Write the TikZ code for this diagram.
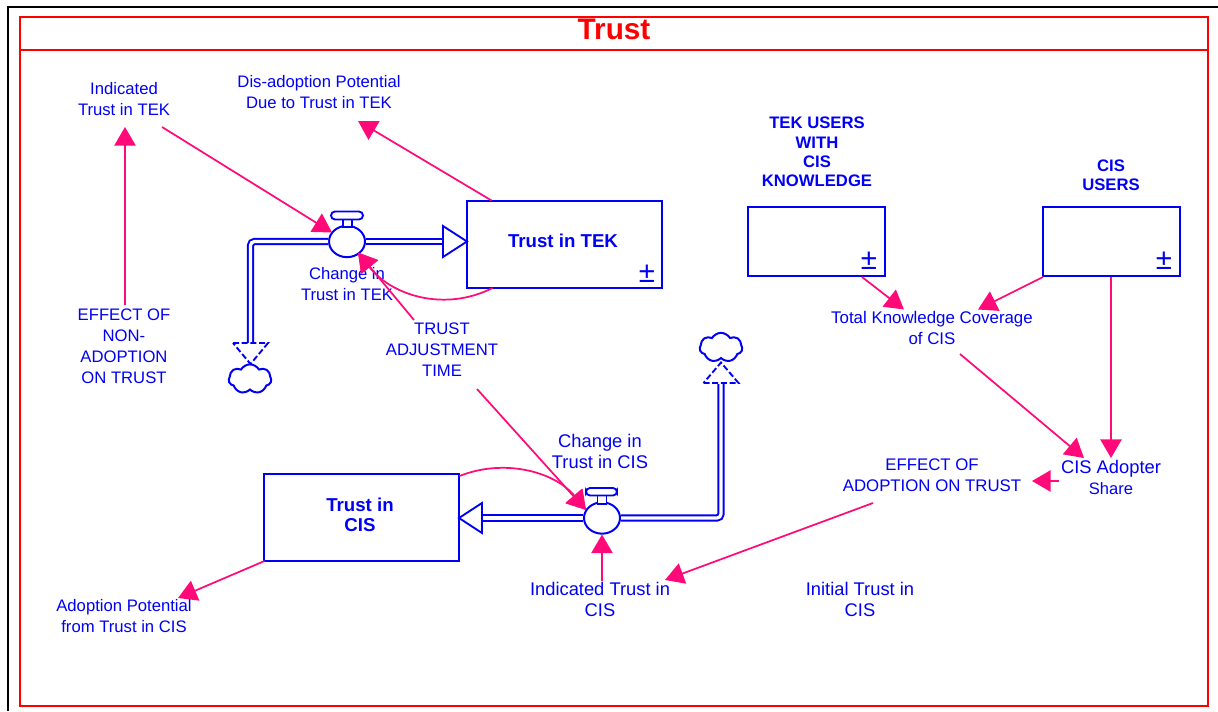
\documentclass[tikz,border=0pt]{standalone}
\usepackage{fontspec}
\setmainfont{Liberation Sans}
\usetikzlibrary{arrows.meta,shapes.symbols,shapes.geometric}
\definecolor{linkpink}{RGB}{255,10,120}
\definecolor{sdblue}{RGB}{0,0,245}
\newcommand{\fs}[1]{\fontsize{#1}{15.75}\selectfont}
\tikzset{
  lbl/.style={text=sdblue,align=center,inner sep=0pt,font=\fs{12.5}},
  lblbig/.style={lbl,font=\fs{13.75}},
  blbl/.style={text=sdblue,align=center,inner sep=0pt,font=\fontsize{12.5}{14.6}\selectfont\bfseries},
  blblbig/.style={blbl,font=\fontsize{14}{15}\selectfont\bfseries},
  stock/.style={draw=sdblue,line width=1.2pt,fill=white,inner sep=0pt},
  pm/.style={text=sdblue,inner sep=0pt,font=\fontsize{22}{22}\selectfont},
  link/.style={draw=linkpink,line width=1.3pt,-{Triangle[length=14pt,width=16pt]}},
  pipe/.style={draw=sdblue,double=white,double distance=2.4pt,line width=1.5pt,rounded corners=3pt},
  valve/.style={draw=sdblue,fill=white,line width=1.5pt,ellipse,inner sep=0pt,minimum width=27pt,minimum height=23.5pt},
  vhandle/.style={draw=sdblue,fill=white,line width=1.4pt},
  headsolid/.style={draw=sdblue,fill=white,line width=1.4pt},
  headdash/.style={draw=sdblue,fill=white,line width=1.4pt,dash pattern=on 4.5pt off 2pt},
  sdcloud/.style={cloud,cloud puffs=7,cloud puff arc=120,aspect=1.45,draw=sdblue,fill=white,line width=1.5pt,inner sep=0pt,minimum width=32pt,minimum height=22pt},
}
\begin{document}
\begin{tikzpicture}[x=0.75pt,y=-0.75pt]
\useasboundingbox (0,0) rectangle (1218,711);
% frames
\draw[black,line width=1.5pt] (1218,7) -- (8,7) -- (8,711);
\draw[red,line width=1.3pt] (20,17) rectangle (1208,706);
\draw[red,line width=1.3pt] (20,50) -- (1208,50);
\node[text=red,inner sep=0pt,font=\fontsize{22.3}{24}\selectfont\bfseries] (title) at (614,29) {Trust};
% stocks
\node[stock,minimum width=146.25pt,minimum height=65.25pt] (stockTEK) at (564.5,244.5) {};
\node[blblbig] (stockTEKlbl) at (563,241) {Trust in TEK};
\node[pm] (pmTEK) at (647,274) {±};
\node[stock,minimum width=146.25pt,minimum height=65.25pt] (stockCIS) at (361.5,517.5) {};
\node[blblbig] (stockCISlbl) at (360,515) {Trust in\\CIS};
\node[stock,minimum width=102.75pt,minimum height=51.75pt] (stockUsers) at (816.5,241.5) {};
\node[pm] (pmUsers) at (869,261) {±};
\node[stock,minimum width=102.75pt,minimum height=51.75pt] (stockCISU) at (1111.5,241.5) {};
\node[pm] (pmCISU) at (1164,261) {±};
\node[blbl] (usersLbl) at (817,152) {TEK USERS\\WITH\\CIS\\KNOWLEDGE};
\node[blbl] (cisuLbl) at (1111,175) {CIS\\USERS};
% valves
\node[valve] (valveA) at (347,241.5) {};
\node[valve] (valveB) at (602,518) {};
% clouds and pipe ends
\node[sdcloud] (cloudA) at (250,379) {};
\node[sdcloud] (cloudB) at (721,347.5) {};
\coordinate (headA) at (443,241.5);
\coordinate (headB) at (482,518);
\coordinate (tipA) at (250.5,344);
\coordinate (tipB) at (721,384);
\draw[pipe] (valveA.west) -| (tipA);
\draw[pipe] (valveA.east) -- (headA);
\draw[pipe] (valveB.west) -- (headB);
\draw[pipe] (valveB.east) -| (tipB);
\draw[headsolid,line join=miter] ([shift={(0,-15.5)}]headA) -- (467,241.5) -- ([shift={(0,15.5)}]headA) -- cycle;
\draw[headsolid,line join=miter] ([shift={(0,-15)}]headB) -- (459,518) -- ([shift={(0,15)}]headB) -- cycle;
\draw[headdash] (233,343) -- (268,343) -- (250.5,364) -- cycle;
\draw[headdash] (703.5,383) -- (738.5,383) -- (721,362.5) -- cycle;
% valve handles
\draw[vhandle] (343,219) rectangle (352,227);
\draw[vhandle,rounded corners=3pt] (331,211.5) rectangle (363,219.5);
\draw[vhandle] (597.5,495.5) rectangle (606.5,504);
\draw[vhandle,rounded corners=3pt] (586,488) rectangle (617,495.5);
% labels
\node[lbl] (indTEK) at (124,99) {Indicated\\Trust in TEK};
\node[lbl] (disTEK) at (319,92) {Dis-adoption Potential\\Due to Trust in TEK};
\node[lbl] (effNon) at (124,346) {EFFECT OF\\NON-\\ADOPTION\\ON TRUST};
\node[lbl] (chTEK) at (347,284) {Change in\\Trust in TEK};
\node[lbl] (tat) at (442,349.5) {TRUST\\ADJUSTMENT\\TIME};
\node[lblbig] (chCIS) at (600,451) {Change in\\Trust in CIS};
\node[lblbig] (indCIS) at (600,599.5) {Indicated Trust in\\CIS};
\node[lblbig] (initCIS) at (860,599.5) {Initial Trust in\\CIS};
\node[lbl] (adoptCIS) at (124,616.5) {Adoption Potential\\from Trust in CIS};
\node[lbl,font=\fs{12.65}] (total) at (932,327.5) {Total Knowledge Coverage\\of CIS};
\node[lbl,font=\fs{12.6}] (effAd) at (932,475) {EFFECT OF\\ADOPTION ON TRUST};
\node[lblbig] (share) at (1111,477) {CIS Adopter\\{\fs{12.4}Share}};
% connectors
\draw[link] ([shift={(1,-41)}]effNon.center) -- ([shift={(1,28)}]indTEK.center);
\draw[link] ([shift={(38,28)}]indTEK.center) -- ([shift={(-15,-9)}]valveA.center);
\draw[link] ([shift={(-73,-44)}]stockTEK.center) -- ([shift={(39,29)}]disTEK.center);
\draw[link] ([shift={(-28,-29.5)}]tat.center) -- ([shift={(11,11)}]valveA.center);
\draw[link] ([shift={(-72,43.5)}]stockTEK.center) .. controls (445,312) and (392,296) .. ([shift={(11,11)}]valveA.center);
\draw[link] ([shift={(98,-41.5)}]stockCIS.center) .. controls (505,458) and (555,472) .. ([shift={(-16,-8)}]valveB.center);
\draw[link] ([shift={(35,39.5)}]tat.center) -- ([shift={(-16,-8)}]valveB.center);
\draw[link] ([shift={(2,-18.5)}]indCIS.center) -- ([shift={(0,16.5)}]valveB.center);
\draw[link] ([shift={(-59,28)}]effAd.center) -- ([shift={(65,-19.5)}]indCIS.center);
\draw[link] ([shift={(-97,43.5)}]stockCIS.center) -- ([shift={(54,-18.5)}]adoptCIS.center);
\draw[link] ([shift={(45.5,35.5)}]stockUsers.center) -- ([shift={(-28,-18)}]total.center);
\draw[link] ([shift={(-68.5,35.5)}]stockCISU.center) -- ([shift={(46,-18)}]total.center);
\draw[link] ([shift={(-0.5,35.5)}]stockCISU.center) -- ([shift={(0,-19)}]share.center);
\draw[link] ([shift={(28,26.5)}]total.center) -- ([shift={(-27,-19)}]share.center);
\draw[link] ([shift={(-52,4)}]share.center) -- ([shift={(100,6)}]effAd.center);
\end{tikzpicture}
\end{document}
